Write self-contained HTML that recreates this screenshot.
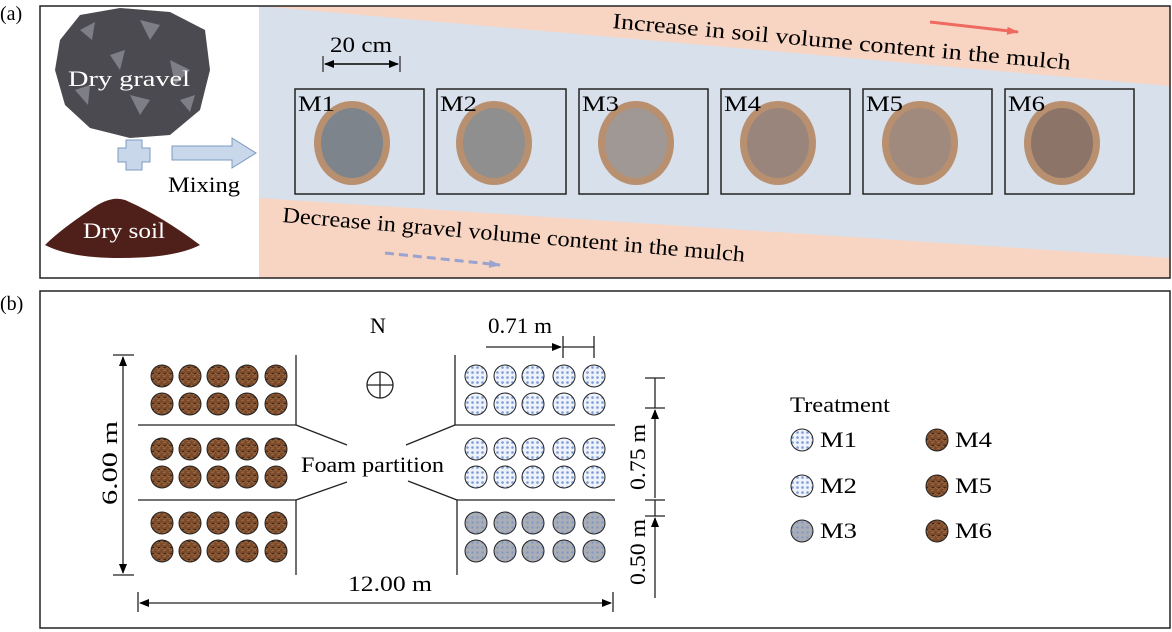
<!DOCTYPE html><html><head><meta charset="utf-8"><style>
body{margin:0;background:#fff}
svg{display:block}
text{font-family:"Liberation Serif","DejaVu Serif",serif}
</style></head><body>
<svg width="1172" height="632" viewBox="0 0 1172 632" xmlns="http://www.w3.org/2000/svg" font-family="Liberation Serif, serif">
<defs>
<pattern id="pb" width="5" height="5" patternUnits="userSpaceOnUse"><rect width="5" height="5" fill="#eef2fa"/><circle cx="2.5" cy="2.5" r="1.3" fill="#7d9bd6"/></pattern>
<pattern id="pg" width="5" height="5" patternUnits="userSpaceOnUse"><rect width="5" height="5" fill="#a9adb6"/><circle cx="2.5" cy="2.5" r="1.1" fill="#7d95c8"/></pattern>
<pattern id="pr" width="6" height="6" patternUnits="userSpaceOnUse"><rect width="6" height="6" fill="#7b4a2b"/><path d="M0 2 L3 3 L6 1 M1 5 L4 4" stroke="#a0683e" stroke-width="1"/></pattern>
<marker id="ah" markerWidth="10" markerHeight="8" refX="9" refY="4" orient="auto-start-reverse" markerUnits="userSpaceOnUse"><path d="M0 0 L10 4 L0 8 Z" fill="#000"/></marker>
<marker id="ar" markerWidth="12" markerHeight="8" refX="11" refY="4" orient="auto" markerUnits="userSpaceOnUse"><path d="M0 0 L12 4 L0 8 Z" fill="#ee6a60"/></marker>
<marker id="ab" markerWidth="12" markerHeight="8" refX="11" refY="4" orient="auto" markerUnits="userSpaceOnUse"><path d="M0 0 L12 4 L0 8 Z" fill="#9aa3cf"/></marker>
</defs>
<text x="0" y="20" font-size="20">(a)</text>
<text x="0" y="310" font-size="20">(b)</text>
<rect x="259" y="6" width="911" height="272" fill="#d8e0ec"/>
<polygon points="259,6 1170,6 1170,86" fill="#f8d5c2"/>
<polygon points="259,198 1170,258 1170,278 259,278" fill="#f8d5c2"/>
<rect x="40" y="6" width="1130" height="272" fill="none" stroke="#222" stroke-width="1.5"/>
<path d="M60,40 L80,15 L120,8 L170,12 L205,30 L210,70 L200,110 L170,135 L130,138 L90,128 L65,105 L55,70 Z" fill="#4a4a50"/>
<g fill="#7e7e86"><polygon points="80,30 95,22 92,40"/><polygon points="140,20 160,25 150,40"/><polygon points="110,55 125,50 120,70"/><polygon points="170,60 190,70 175,85"/><polygon points="75,90 90,85 88,105"/><polygon points="130,95 150,100 140,115"/><polygon points="180,100 195,95 190,112"/></g>
<g font-size="22" lengthAdjust="spacingAndGlyphs">
<text x="68" y="86" fill="#fff" textLength="122" lengthAdjust="spacingAndGlyphs">Dry gravel</text>
<text x="168" y="192" textLength="72" lengthAdjust="spacingAndGlyphs">Mixing</text>
</g>
<path d="M126,140 h16 v8 h8 v14 h-8 v8 h-16 v-8 h-8 v-14 h8 Z" fill="#c8d7ea" stroke="#7d9bc0"/>
<path d="M172,146 h60 v-8 l24,15 l-24,15 v-8 h-60 Z" fill="#c8d7ea" stroke="#7d9bc0"/>
<path d="M45,245 Q60,230 90,210 Q110,195 125,200 Q160,215 200,245 Q175,258 120,258 Q70,258 45,245 Z" fill="#4f1f1a"/>
<text x="83" y="238" font-size="22" fill="#fff" textLength="82" lengthAdjust="spacingAndGlyphs">Dry soil</text>
<text x="330" y="52" font-size="22" textLength="62" lengthAdjust="spacingAndGlyphs">20 cm</text>
<line x1="323" y1="56" x2="323" y2="72" stroke="#000"/><line x1="400" y1="56" x2="400" y2="72" stroke="#000"/>
<line x1="325" y1="64" x2="398" y2="64" stroke="#000" stroke-width="1.5" marker-end="url(#ah)" marker-start="url(#ah)"/>
<g font-size="22">
<g><rect x="295" y="89" width="129" height="105" fill="none" stroke="#222" stroke-width="1.5"/><ellipse cx="352" cy="143" rx="38" ry="42" fill="#b89070"/><ellipse cx="352" cy="143" rx="31" ry="35" fill="#7d848c"/><text x="298" y="111" textLength="37" lengthAdjust="spacingAndGlyphs">M1</text></g>
<g><rect x="437" y="89" width="129" height="105" fill="none" stroke="#222" stroke-width="1.5"/><ellipse cx="494" cy="143" rx="38" ry="42" fill="#b89070"/><ellipse cx="494" cy="143" rx="31" ry="35" fill="#8e8f8e"/><text x="440" y="111" textLength="37" lengthAdjust="spacingAndGlyphs">M2</text></g>
<g><rect x="579" y="89" width="129" height="105" fill="none" stroke="#222" stroke-width="1.5"/><ellipse cx="636" cy="143" rx="38" ry="42" fill="#b89070"/><ellipse cx="636" cy="143" rx="31" ry="35" fill="#a09894"/><text x="582" y="111" textLength="37" lengthAdjust="spacingAndGlyphs">M3</text></g>
<g><rect x="721" y="89" width="129" height="105" fill="none" stroke="#222" stroke-width="1.5"/><ellipse cx="778" cy="143" rx="38" ry="42" fill="#b89070"/><ellipse cx="778" cy="143" rx="31" ry="35" fill="#9a857c"/><text x="724" y="111" textLength="37" lengthAdjust="spacingAndGlyphs">M4</text></g>
<g><rect x="863" y="89" width="129" height="105" fill="none" stroke="#222" stroke-width="1.5"/><ellipse cx="920" cy="143" rx="38" ry="42" fill="#b89070"/><ellipse cx="920" cy="143" rx="31" ry="35" fill="#a08a7e"/><text x="866" y="111" textLength="37" lengthAdjust="spacingAndGlyphs">M5</text></g>
<g><rect x="1005" y="89" width="129" height="105" fill="none" stroke="#222" stroke-width="1.5"/><ellipse cx="1062" cy="143" rx="38" ry="42" fill="#b89070"/><ellipse cx="1062" cy="143" rx="31" ry="35" fill="#8c7468"/><text x="1008" y="111" textLength="37" lengthAdjust="spacingAndGlyphs">M6</text></g>
</g>
<text font-size="22" transform="translate(612,28) rotate(5.2)" textLength="460" lengthAdjust="spacingAndGlyphs">Increase in soil volume content in the mulch</text>
<line x1="930" y1="22" x2="1018" y2="32" stroke="#ee6a60" stroke-width="3" marker-end="url(#ar)"/>
<text font-size="22" transform="translate(282,222) rotate(4.9)" textLength="464" lengthAdjust="spacingAndGlyphs">Decrease in gravel volume content in the mulch</text>
<line x1="385" y1="253" x2="500" y2="265" stroke="#9aa3cf" stroke-width="3" stroke-dasharray="9,5" marker-end="url(#ab)"/>
<rect x="40" y="291" width="1130" height="337" fill="none" stroke="#222" stroke-width="1.5"/>
<g stroke="#222" stroke-width="1.3" fill="none">
<line x1="296" y1="355" x2="296" y2="425"/><line x1="296" y1="500" x2="296" y2="575"/>
<line x1="138" y1="425" x2="296" y2="425"/><line x1="138" y1="500" x2="296" y2="500"/>
<line x1="296" y1="425" x2="347" y2="445"/><line x1="296" y1="500" x2="347" y2="482"/>
<line x1="455" y1="355" x2="455" y2="425"/><line x1="457" y1="500" x2="457" y2="575"/>
<line x1="455" y1="425" x2="615" y2="425"/><line x1="457" y1="500" x2="615" y2="500"/>
<line x1="455" y1="425" x2="406" y2="445"/><line x1="457" y1="500" x2="408" y2="481"/>
</g>
<g stroke="#222" stroke-width="1">
<g fill="url(#pr)">
<circle cx="162" cy="376" r="11"/><circle cx="190" cy="376" r="11"/><circle cx="218" cy="376" r="11"/><circle cx="247" cy="376" r="11"/><circle cx="276" cy="376" r="11"/>
<circle cx="162" cy="404" r="11"/><circle cx="190" cy="404" r="11"/><circle cx="218" cy="404" r="11"/><circle cx="247" cy="404" r="11"/><circle cx="276" cy="404" r="11"/>
<circle cx="162" cy="449" r="11"/><circle cx="190" cy="449" r="11"/><circle cx="218" cy="449" r="11"/><circle cx="247" cy="449" r="11"/><circle cx="276" cy="449" r="11"/>
<circle cx="162" cy="477" r="11"/><circle cx="190" cy="477" r="11"/><circle cx="218" cy="477" r="11"/><circle cx="247" cy="477" r="11"/><circle cx="276" cy="477" r="11"/>
<circle cx="162" cy="523" r="11"/><circle cx="190" cy="523" r="11"/><circle cx="218" cy="523" r="11"/><circle cx="247" cy="523" r="11"/><circle cx="276" cy="523" r="11"/>
<circle cx="162" cy="551" r="11"/><circle cx="190" cy="551" r="11"/><circle cx="218" cy="551" r="11"/><circle cx="247" cy="551" r="11"/><circle cx="276" cy="551" r="11"/>
<circle cx="937" cy="440" r="11"/><circle cx="937" cy="486" r="11"/><circle cx="937" cy="531" r="11"/>
</g>
<g fill="url(#pb)">
<circle cx="476" cy="376" r="11"/><circle cx="505" cy="376" r="11"/><circle cx="533" cy="376" r="11"/><circle cx="564" cy="376" r="11"/><circle cx="594" cy="376" r="11"/>
<circle cx="476" cy="404" r="11"/><circle cx="505" cy="404" r="11"/><circle cx="533" cy="404" r="11"/><circle cx="564" cy="404" r="11"/><circle cx="594" cy="404" r="11"/>
<circle cx="476" cy="449" r="11"/><circle cx="505" cy="449" r="11"/><circle cx="533" cy="449" r="11"/><circle cx="564" cy="449" r="11"/><circle cx="594" cy="449" r="11"/>
<circle cx="476" cy="477" r="11"/><circle cx="505" cy="477" r="11"/><circle cx="533" cy="477" r="11"/><circle cx="564" cy="477" r="11"/><circle cx="594" cy="477" r="11"/>
<circle cx="802" cy="440" r="11"/><circle cx="802" cy="486" r="11"/>
</g>
<g fill="url(#pg)">
<circle cx="476" cy="523" r="11"/><circle cx="505" cy="523" r="11"/><circle cx="533" cy="523" r="11"/><circle cx="564" cy="523" r="11"/><circle cx="594" cy="523" r="11"/>
<circle cx="476" cy="551" r="11"/><circle cx="505" cy="551" r="11"/><circle cx="533" cy="551" r="11"/><circle cx="564" cy="551" r="11"/><circle cx="594" cy="551" r="11"/>
<circle cx="802" cy="531" r="11"/>
</g>
</g>
<g font-size="22">
<text x="790" y="412" textLength="100" lengthAdjust="spacingAndGlyphs">Treatment</text>
<text x="820" y="447" textLength="37" lengthAdjust="spacingAndGlyphs">M1</text><text x="820" y="493" textLength="37" lengthAdjust="spacingAndGlyphs">M2</text><text x="820" y="538" textLength="37" lengthAdjust="spacingAndGlyphs">M3</text>
<text x="955" y="447" textLength="37" lengthAdjust="spacingAndGlyphs">M4</text><text x="955" y="493" textLength="37" lengthAdjust="spacingAndGlyphs">M5</text><text x="955" y="538" textLength="37" lengthAdjust="spacingAndGlyphs">M6</text>
<text x="301" y="472" textLength="143" lengthAdjust="spacingAndGlyphs">Foam partition</text>
<text x="370" y="333">N</text>
<text x="348" y="591" textLength="84" lengthAdjust="spacingAndGlyphs">12.00 m</text>
<text x="488" y="333" textLength="64" lengthAdjust="spacingAndGlyphs">0.71 m</text>
<text transform="translate(117,505) rotate(-90)" textLength="84" lengthAdjust="spacingAndGlyphs">6.00 m</text>
<text transform="translate(645,490) rotate(-90)" textLength="66" lengthAdjust="spacingAndGlyphs">0.75 m</text>
<text transform="translate(645,585) rotate(-90)" textLength="66" lengthAdjust="spacingAndGlyphs">0.50 m</text>
</g>
<g stroke="#222" stroke-width="1.3" fill="none">
<circle cx="380" cy="385" r="13"/><line x1="367" y1="385" x2="393" y2="385"/><line x1="380" y1="372" x2="380" y2="398"/>
<line x1="113" y1="355" x2="134" y2="355"/><line x1="113" y1="575" x2="134" y2="575"/>
<line x1="123" y1="357" x2="123" y2="573" marker-start="url(#ah)" marker-end="url(#ah)"/>
<line x1="138" y1="592" x2="138" y2="612"/><line x1="613" y1="592" x2="613" y2="612"/>
<line x1="140" y1="603" x2="611" y2="603" marker-start="url(#ah)" marker-end="url(#ah)"/>
<line x1="486" y1="347" x2="561" y2="347" marker-end="url(#ah)"/>
<line x1="563" y1="336" x2="563" y2="358"/><line x1="594" y1="336" x2="594" y2="358"/>
<line x1="563" y1="347" x2="594" y2="347"/>
<line x1="655" y1="378" x2="655" y2="408"/><line x1="645" y1="378" x2="665" y2="378"/><line x1="645" y1="408" x2="665" y2="408"/>
<line x1="655" y1="498" x2="655" y2="410" marker-end="url(#ah)"/>
<line x1="655" y1="500" x2="655" y2="516"/><line x1="645" y1="500" x2="665" y2="500"/><line x1="645" y1="516" x2="665" y2="516"/>
<line x1="655" y1="598" x2="655" y2="518" marker-end="url(#ah)"/>
</g>
</svg>
</body></html>
